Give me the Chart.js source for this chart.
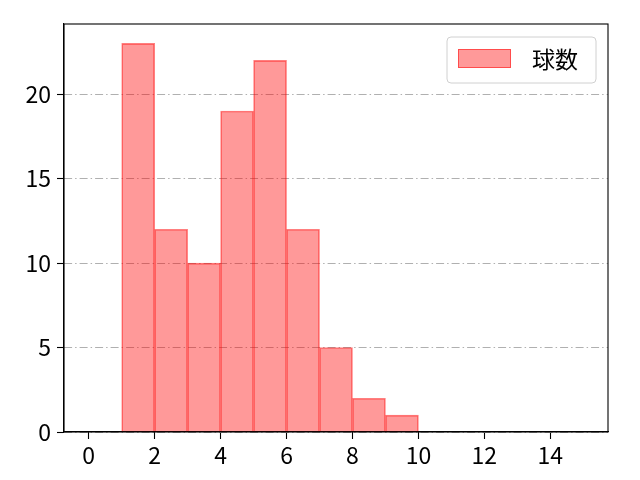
<!DOCTYPE html>
<html>
<head>
<meta charset="utf-8">
<script src="https://cdn.jsdelivr.net/npm/chart.js@4/dist/chart.umd.min.js"></script>
<style>
    html, body { margin: 0; padding: 0; background: #fff; }
    canvas { display: block; }
</style>
</head>
<body>
<canvas id="chart" width="640" height="480"></canvas>
<script>
// bin centres (bins of width 1 from 1 to 10)
const binCenters = [1.5, 2.5, 3.5, 4.5, 5.5, 6.5, 7.5, 8.5, 9.5];
const counts = [23, 12, 10, 19, 22, 12, 5, 2, 1];
const xTicks = [0, 2, 4, 6, 8, 10, 12, 14];
const yTicks = [0, 5, 10, 15, 20];
const seriesLabel = '球数';

const FONT = '"Noto Sans CJK JP", "Noto Sans", sans-serif';
const FONT_SIZE = 23;
const fillColor = 'rgba(255, 0, 0, 0.4)';
const edgeColor = 'rgba(255, 0, 0, 0.5)';

// box around the plot + legend inside top right
const framePlugin = {
    id: 'frame',
    afterDraw(chart) {
        const { ctx, chartArea: a } = chart;
        ctx.save();
        ctx.strokeStyle = '#000';
        ctx.lineWidth = 1.1;
        ctx.strokeRect(a.left, a.top, a.right - a.left, a.bottom - a.top);

        // legend
        const bx = a.right - 161, by = a.top + 13, bw = 149, bh = 46;
        ctx.beginPath();
        ctx.roundRect(bx, by, bw, bh, 4);
        ctx.fillStyle = 'rgba(255,255,255,0.8)';
        ctx.fill();
        ctx.strokeStyle = '#d0d0d0';
        ctx.lineWidth = 1;
        ctx.stroke();

        ctx.fillStyle = fillColor;
        ctx.fillRect(bx + 11, by + 12, 53, 19);
        ctx.strokeStyle = edgeColor;
        ctx.strokeRect(bx + 11.5, by + 12.5, 52, 18);

        ctx.fillStyle = '#000';
        ctx.font = FONT_SIZE + 'px ' + FONT;
        ctx.textBaseline = 'middle';
        ctx.fillText(seriesLabel, bx + 85, by + 22);
        ctx.restore();
    }
};

new Chart(document.getElementById('chart'), {
    type: 'bar',
    data: {
        datasets: [{
            label: seriesLabel,
            data: binCenters.map((x, i) => ({ x, y: counts[i] })),
            backgroundColor: fillColor,
            borderColor: edgeColor,
            borderWidth: 1,
            borderSkipped: 'start',
            barPercentage: 1,
            categoryPercentage: 1
        }]
    },
    options: {
        responsive: false,
        animation: false,
        layout: { padding: { top: 24, right: 32, left: 0, bottom: 0 } },
        plugins: {
            legend: { display: false },
            tooltip: { enabled: false }
        },
        scales: {
            x: {
                type: 'linear',
                min: -0.75,
                max: 15.75,
                offset: false,
                afterBuildTicks: (scale) => {
                    scale.ticks = xTicks.map(v => ({ value: v }));
                },
                afterFit: (scale) => { scale.height = 48; },
                grid: {
                    offset: false,
                    drawOnChartArea: false,
                    tickLength: 7,
                    tickColor: '#000',
                    tickWidth: 1.1
                },
                border: { color: '#000', width: 1.1 },
                ticks: {
                    color: '#000',
                    padding: 2,
                    maxRotation: 0,
                    autoSkip: false,
                    font: { family: FONT, size: FONT_SIZE }
                }
            },
            y: {
                min: 0,
                max: 24.15,
                afterBuildTicks: (scale) => {
                    scale.ticks = yTicks.map(v => ({ value: v }));
                },
                afterFit: (scale) => { scale.width = 64; },
                grid: {
                    color: '#b0b0b0',
                    lineWidth: 1,
                    tickLength: 7,
                    tickColor: '#000',
                    tickWidth: 1.1,
                    tickBorderDash: []
                },
                border: { color: '#000', width: 1.1, dash: [8, 3, 1.5, 3] },
                ticks: {
                    color: '#000',
                    padding: 6,
                    font: { family: FONT, size: FONT_SIZE }
                }
            }
        }
    },
    plugins: [framePlugin]
});
</script>
</body>
</html>
